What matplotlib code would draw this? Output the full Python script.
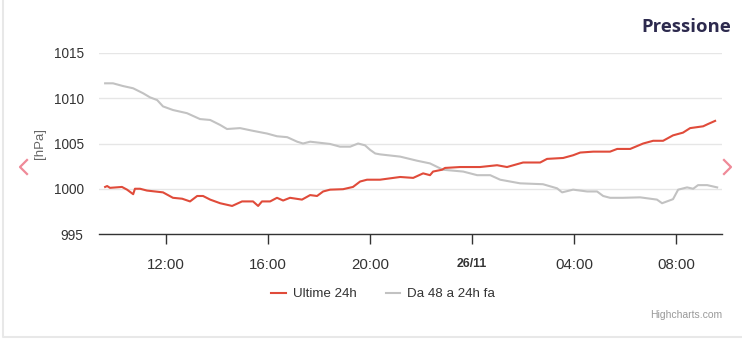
import matplotlib
matplotlib.use("Agg")
import matplotlib.pyplot as plt
from matplotlib.lines import Line2D

# hours from midnight of 25/11 (24 = 26/11 00:00)
ultime_t = [9.61, 9.69, 9.80, 10.27, 10.47, 10.71, 10.78, 10.98, 11.25, 11.88,
            12.27, 12.63, 12.94, 13.22, 13.45, 13.73, 14.12, 14.59, 14.98, 15.41,
            15.61, 15.76, 16.08, 16.35, 16.59, 16.86, 17.33, 17.65, 17.92, 18.16,
            18.43, 18.94, 19.33, 19.61, 19.88, 20.39, 21.18, 21.69, 22.08, 22.35,
            22.47, 22.82, 22.94, 23.53, 24.31, 24.98, 25.37, 26.00, 26.67, 26.94,
            27.57, 27.96, 28.24, 28.75, 29.41, 29.69, 30.20, 30.71, 31.10, 31.49,
            31.88, 32.27, 32.55, 33.06, 33.25, 33.53]
ultime_v = [1000.2, 1000.3, 1000.1, 1000.2, 999.9, 999.4, 1000.0, 1000.0, 999.8, 999.6,
            999.0, 998.9, 998.6, 999.2, 999.2, 998.8, 998.4, 998.1, 998.6, 998.6,
            998.1, 998.6, 998.6, 999.0, 998.7, 999.0, 998.8, 999.3, 999.2, 999.7,
            999.9, 999.95, 1000.2, 1000.8, 1001.0, 1001.0, 1001.3, 1001.2, 1001.7, 1001.5,
            1001.9, 1002.1, 1002.3, 1002.4, 1002.4, 1002.6, 1002.4, 1002.9, 1002.9, 1003.3,
            1003.4, 1003.7, 1004.0, 1004.1, 1004.1, 1004.4, 1004.4, 1005.0, 1005.3, 1005.3,
            1005.9, 1006.2, 1006.7, 1006.9, 1007.15, 1007.5]

prima_t = [9.61, 9.92, 10.31, 10.71, 11.10, 11.37, 11.65, 11.88, 12.27, 12.82,
           13.33, 13.73, 14.12, 14.39, 14.90, 15.41, 15.96, 16.35, 16.75, 17.14,
           17.37, 17.65, 18.43, 18.82, 19.22, 19.53, 19.80, 20.00, 20.20, 20.39,
           21.18, 21.84, 22.35, 22.75, 22.86, 23.65, 24.20, 24.71, 25.10, 25.88,
           26.78, 27.33, 27.53, 27.96, 28.51, 28.90, 29.14, 29.41, 29.92, 30.59,
           31.25, 31.45, 31.88, 32.08, 32.43, 32.67, 32.86, 33.22, 33.61]
prima_v = [1011.65, 1011.65, 1011.35, 1011.1, 1010.55, 1010.1, 1009.8, 1009.1, 1008.7, 1008.35,
           1007.7, 1007.6, 1007.05, 1006.6, 1006.7, 1006.4, 1006.1, 1005.8, 1005.7, 1005.2,
           1005.0, 1005.2, 1004.95, 1004.65, 1004.65, 1005.0, 1004.8, 1004.3, 1003.9, 1003.8,
           1003.55, 1003.1, 1002.8, 1002.25, 1002.1, 1001.9, 1001.5, 1001.5, 1001.0, 1000.6,
           1000.5, 1000.05, 999.6, 999.9, 999.7, 999.7, 999.2, 999.0, 999.0, 999.05,
           998.8, 998.4, 998.85, 999.9, 1000.15, 1000.0, 1000.4, 1000.4, 1000.15]

tick_pos = [12, 16, 20, 24, 28, 32]
tick_labels = ["12:00", "16:00", "20:00", "26/11", "04:00", "08:00"]
y_ticks = [995, 1000, 1005, 1010, 1015]

plt.rcParams['font.family'] = ['Liberation Sans', 'DejaVu Sans']

fig = plt.figure(figsize=(7.42, 3.4), dpi=100)
ax = fig.add_axes([99 / 742, 1 - 234 / 340, 623 / 742, 181 / 340])

ax.plot(ultime_t, ultime_v, color='#e04b3a', lw=1.5, label='Ultime 24h', zorder=3)
ax.plot(prima_t, prima_v, color='#c2c2c2', lw=1.5, label='Da 48 a 24h fa', zorder=2)

ax.set_xlim(9.37, 33.8)
ax.set_ylim(995, 1015)
ax.set_yticks(y_ticks)
ax.set_yticklabels([str(v) for v in y_ticks], fontsize=9.8, color='#333333')
ax.set_xticks(tick_pos)
ax.set_xticklabels(tick_labels, fontsize=10.8, color='#333333')
for lab in ax.get_xticklabels():
    if lab.get_text() == "26/11":
        lab.set_fontweight('bold')
        lab.set_fontsize(8.8)
ax.tick_params(axis='y', length=0, pad=11)
ax.tick_params(axis='x', length=7, width=1, color='#333333', pad=10)
ax.grid(axis='y', color='#e6e6e6', lw=1)
ax.set_axisbelow(True)
for s in ['top', 'right', 'left']:
    ax.spines[s].set_visible(False)
ax.spines['bottom'].set_color('#333333')
ax.spines['bottom'].set_linewidth(1)

ax.set_ylabel('[hPa]', fontsize=9.5, color='#666666')
ax.yaxis.set_label_coords((46 - 99) / 623, 0.50)

fig.text(731 / 742, 1 - 27 / 340, 'Pressione', ha='right', va='center',
         fontsize=13.3, fontweight='bold', color='#2d2a4e', family='Open Sans')

fig.legend(loc='center', bbox_to_anchor=(383 / 742, 1 - 294 / 340), ncol=2,
           frameon=False, fontsize=9.6, handlelength=1.1, columnspacing=2.2,
           handletextpad=0.5, labelcolor='#333333')

fig.text(722 / 742, 1 - 315 / 340, 'Highcharts.com', ha='right', va='center',
         fontsize=7.5, color='#999999')

# pink navigation arrows
pink = '#ef8a98'
fig.add_artist(Line2D([27 / 742, 20 / 742, 27 / 742],
                      [1 - 160 / 340, 1 - 167 / 340, 1 - 174 / 340],
                      color=pink, lw=1.6, transform=fig.transFigure))
fig.add_artist(Line2D([724 / 742, 731 / 742, 724 / 742],
                      [1 - 160 / 340, 1 - 167 / 340, 1 - 174 / 340],
                      color=pink, lw=1.6, transform=fig.transFigure))

# container border
fig.add_artist(Line2D([3 / 742, 3 / 742, 741 / 742], [1, 3 / 340, 3 / 340],
                      color='#e8e8e8', lw=1.5, transform=fig.transFigure))

fig.savefig('out.png', dpi=100)
